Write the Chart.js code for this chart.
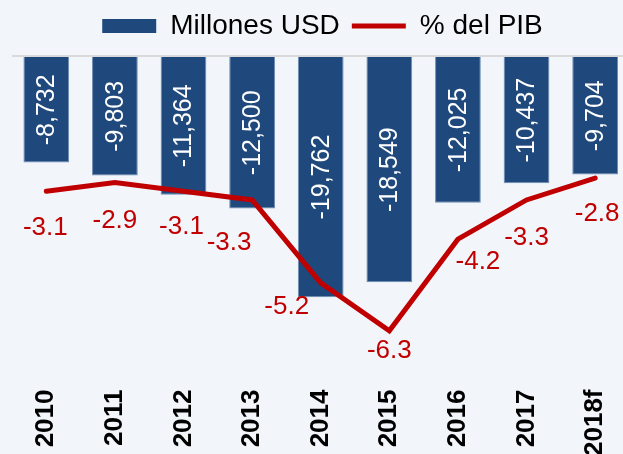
<!DOCTYPE html>
<html>
<head>
<meta charset="utf-8">
<script src="https://cdn.jsdelivr.net/npm/chart.js@4"></script>
<style>
  html, body { margin: 0; padding: 0; overflow: hidden; background: #F2F6FB; }
  #wrap { width: 645px; height: 454px; }
</style>
</head>
<body>
<div id="wrap"><canvas id="chart"></canvas></div>
<script>
const years = ["2010", "2011", "2012", "2013", "2014", "2015", "2016", "2017", "2018f"];
const millonesUSD = [-8732, -9803, -11364, -12500, -19762, -18549, -12025, -10437, -9704];
const pctPIB = [-3.1, -2.9, -3.1, -3.3, -5.2, -6.3, -4.2, -3.3, -2.8];

const BLUE = "#1F497D";
const RED = "#C00000";
const FONT = "'Liberation Sans', Arial, sans-serif";

// label nudges for the % line (dx, dy from the point), like the hand placed ones
const lineLabelShift = [[-1, 37], [0, 38], [-2, 36], [-23, 43], [-34, 24], [0, 20], [20, 23], [0, 38], [2, 36]];

// a bit more room under the legend
const legendSpace = {
  id: "legendSpace",
  beforeInit(chart) {
    const fit = chart.legend.fit;
    chart.legend.fit = function () {
      fit.call(this);
      this.height += 6;
    };
  }
};

const valueLabels = {
  id: "valueLabels",
  afterDatasetsDraw(chart) {
    const ctx = chart.ctx;
    ctx.save();
    // bar values, rotated, white, centred in the bar
    const barMeta = chart.getDatasetMeta(1);
    ctx.font = "25px " + FONT;
    ctx.fillStyle = "#fff";
    ctx.textAlign = "center";
    ctx.textBaseline = "middle";
    barMeta.data.forEach((bar, i) => {
      const cy = (bar.y + bar.base) / 2;
      ctx.save();
      ctx.translate(bar.x, cy);
      ctx.rotate(-Math.PI / 2);
      ctx.fillText(millonesUSD[i].toLocaleString("en-US"), 0, 1);
      ctx.restore();
    });
    // line values, red, below the points
    const lineMeta = chart.getDatasetMeta(0);
    ctx.font = "26px " + FONT;
    ctx.fillStyle = RED;
    lineMeta.data.forEach((pt, i) => {
      const s = lineLabelShift[i];
      ctx.fillText(pctPIB[i].toFixed(1), pt.x + s[0], pt.y + s[1]);
    });
    ctx.restore();
  }
};

new Chart(document.getElementById("chart"), {
  data: {
    labels: years,
    datasets: [
      {
        type: "line",
        label: "% del PIB",
        data: pctPIB,
        yAxisID: "yLine",
        borderColor: RED,
        backgroundColor: RED,
        borderWidth: 5,
        borderCapStyle: "round",
        pointRadius: 0,
        tension: 0
      },
      {
        type: "bar",
        label: "Millones USD",
        data: millonesUSD,
        yAxisID: "yBar",
        backgroundColor: BLUE,
        borderColor: "#6F8DB3",
        borderWidth: 1,
        barPercentage: 0.667,
        categoryPercentage: 1
      }
    ]
  },
  options: {
    responsive: true,
    maintainAspectRatio: false,
    animation: false,
    layout: { padding: { left: 12, right: 12, top: 0, bottom: -20 } },
    plugins: {
      tooltip: { enabled: false },
      legend: {
        position: "top",
        labels: {
          usePointStyle: true,
          pointStyleWidth: 54,
          boxHeight: 14,
          padding: 12,
          color: "#000",
          font: { family: FONT, size: 28 },
          sort: (a, b) => b.datasetIndex - a.datasetIndex,
          generateLabels(chart) {
            return chart.data.datasets.map((ds, i) => ({
              text: ds.label,
              datasetIndex: i,
              fillStyle: ds.type === "bar" ? BLUE : RED,
              strokeStyle: ds.type === "bar" ? BLUE : RED,
              lineWidth: ds.type === "bar" ? 0 : 5,
              pointStyle: ds.type === "bar" ? "rect" : "line",
              fontColor: "#000"
            }));
          }
        }
      }
    },
    scales: {
      x: {
        grid: { display: false },
        border: { display: false },
        ticks: {
          color: "#000",
          font: { family: FONT, size: 26, weight: "bold" },
          minRotation: 90,
          maxRotation: 90,
          padding: 18
        }
      },
      yBar: {
        position: "left",
        min: -25200,
        max: 0,
        border: { display: false },
        ticks: { display: false, stepSize: 5000 },
        grid: {
          drawTicks: false,
          lineWidth: 2,
          color: (c) => (c.tick.value === 0 ? "#D9D9D9" : "rgba(0,0,0,0)")
        }
      },
      yLine: {
        display: false,
        position: "right",
        min: -7.05,
        max: 0
      }
    }
  },
  plugins: [legendSpace, valueLabels]
});
</script>
</body>
</html>
